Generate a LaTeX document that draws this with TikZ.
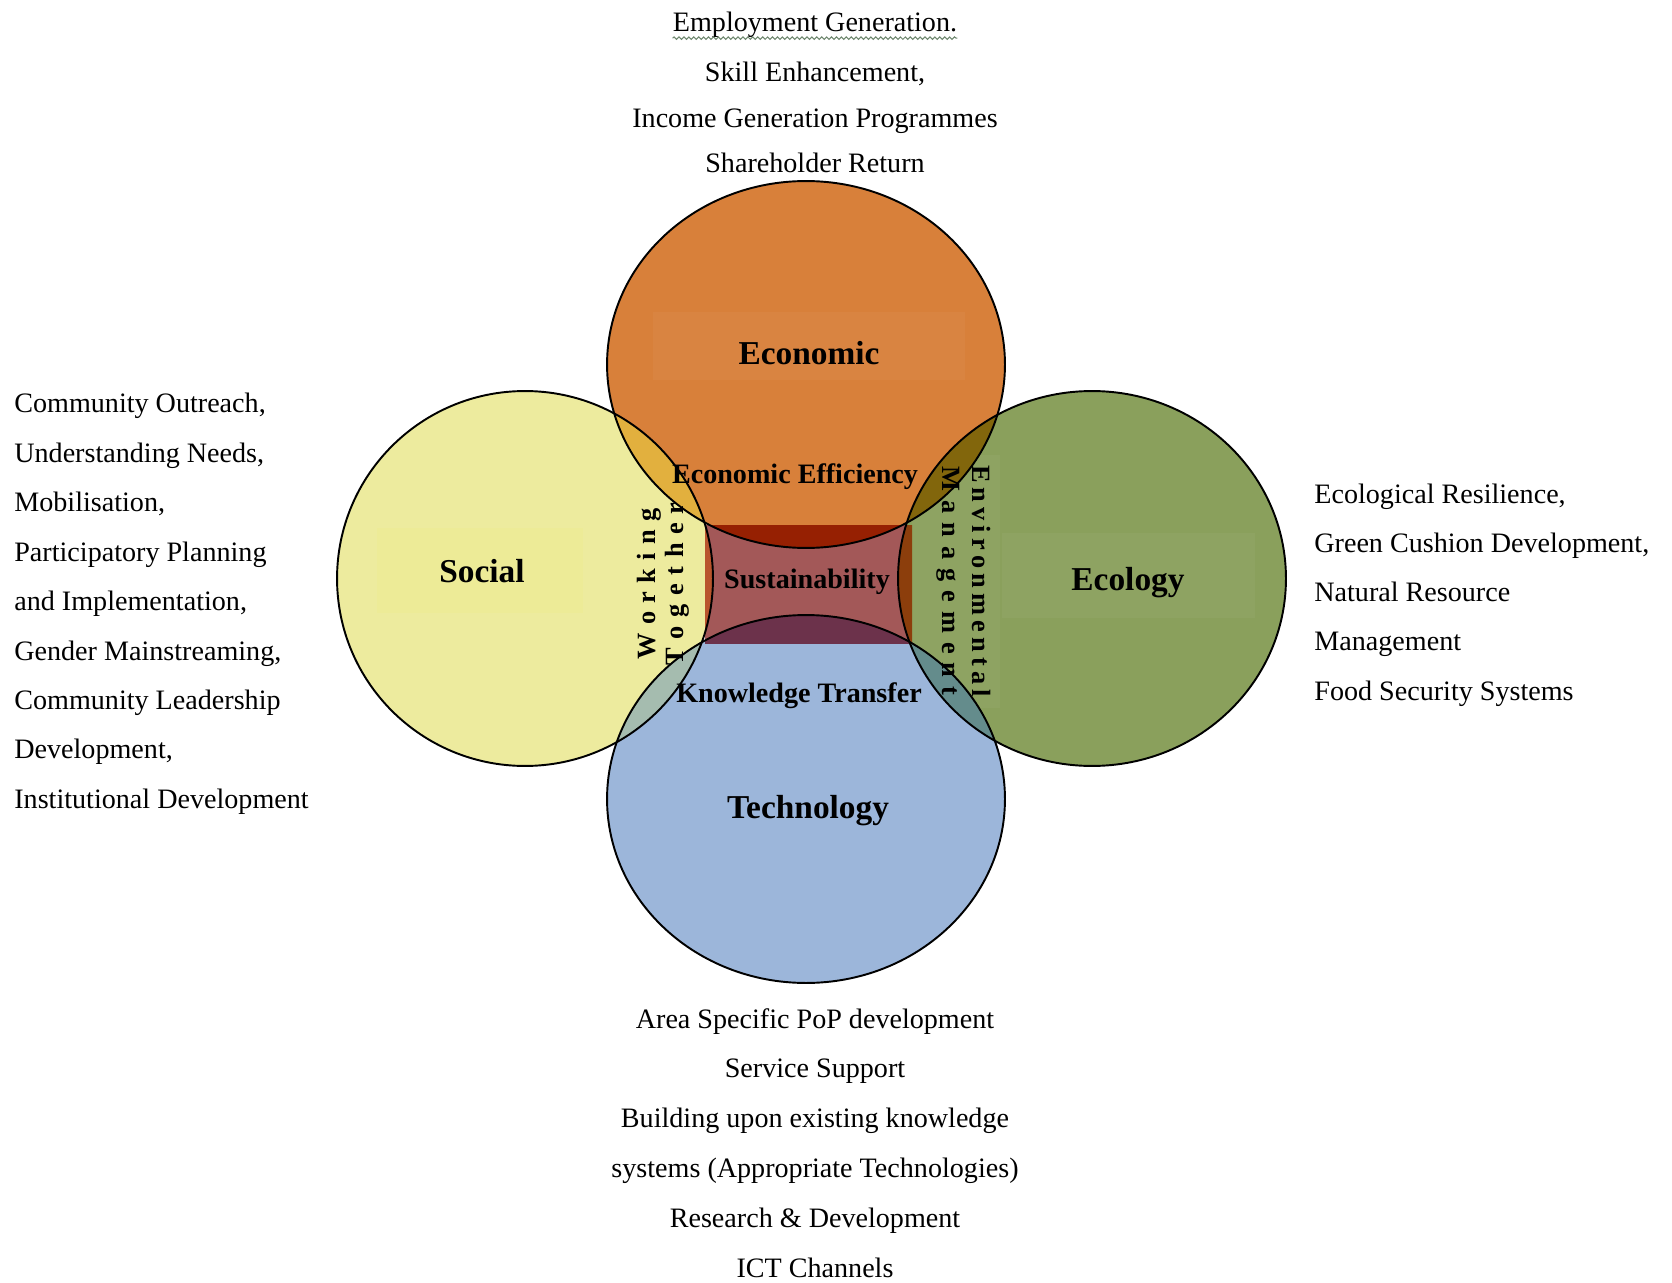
\documentclass[tikz,border=0pt]{standalone}
\usepackage{fontspec}
\setmainfont{Liberation Serif}
\usetikzlibrary{decorations.pathmorphing}

\definecolor{econorange}{RGB}{216,128,58}
\definecolor{socyellow}{RGB}{237,235,158}
\definecolor{ecogreen}{RGB}{138,160,92}
\definecolor{techblue}{RGB}{156,182,218}
\definecolor{lensOS}{RGB}{226,176,62}
\definecolor{lensOE}{RGB}{130,102,12}
\definecolor{lensTS}{RGB}{165,188,175}
\definecolor{lensTE}{RGB}{100,140,140}
\definecolor{sustrose}{RGB}{163,88,88}
\definecolor{sustO}{RGB}{150,32,2}
\definecolor{sustT}{RGB}{108,50,75}
\definecolor{sustS}{RGB}{185,85,45}
\definecolor{sustE}{RGB}{140,62,12}
\definecolor{squigglecol}{RGB}{110,135,110}

\newcommand{\econshape}{(806,364.5) ellipse [x radius=3.98cm, y radius=3.67cm]}
\newcommand{\socshape}{(525,578.5) ellipse [x radius=3.76cm, y radius=3.75cm]}
\newcommand{\ecoshape}{(1092,578.5) ellipse [x radius=3.88cm, y radius=3.75cm]}
\newcommand{\techshape}{(806,799) ellipse [x radius=3.98cm, y radius=3.68cm]}
\newcommand{\sustshape}{(705,525) rectangle (912,643)}

\tikzset{
  ring/.style={draw=black, line width=1.1pt},
  labelbox/.style={fill=white, fill opacity=0.04},
  itemtext/.style={font=\fontsize{16}{19}\selectfont, inner sep=0pt, anchor=base},
  circlelabel/.style={font=\fontsize{19}{22}\selectfont\bfseries, inner sep=0pt, anchor=base},
  midlabel/.style={font=\fontsize{16}{19}\selectfont\bfseries, inner sep=0pt, anchor=base},
  sidelabel/.style={font=\fontsize{15}{18}\selectfont\bfseries, inner sep=0pt, anchor=base},
}

\begin{document}
\begin{tikzpicture}[x=0.02cm, y=-0.02cm]
    \useasboundingbox (0,0) rectangle (1672,1283);

    % the four circles
    \fill[econorange] \econshape;
    \fill[socyellow] \socshape;
    \fill[ecogreen] \ecoshape;
    \fill[techblue] \techshape;

    % faint boxes behind the circle titles
    \begin{scope}
        \clip \econshape;
        \fill[labelbox] (653,312) rectangle (965,380);
    \end{scope}
    \begin{scope}
        \clip \socshape;
        \fill[yellow, fill opacity=0.04] (377,528) rectangle (583,613);
    \end{scope}
    \begin{scope}
        \clip \ecoshape;
        \fill[labelbox] (1002,533) rectangle (1255,618);
        \fill[labelbox] (912,455) rectangle (1000,708);
    \end{scope}

    % overlaps
    \begin{scope}
        \clip \econshape;
        \fill[lensOS] \socshape;
        \fill[lensOE] \ecoshape;
    \end{scope}
    \begin{scope}
        \clip \techshape;
        \fill[lensTS] \socshape;
        \fill[lensTE] \ecoshape;
    \end{scope}

    % Sustainability core
    \fill[sustrose] \sustshape;
    \begin{scope}
        \clip \sustshape;
        \fill[sustO] \econshape;
        \fill[sustT] \techshape;
        \fill[sustS] \socshape;
        \fill[sustE] \ecoshape;
    \end{scope}

    \draw[ring] \econshape;
    \draw[ring] \socshape;
    \draw[ring] \ecoshape;
    \draw[ring] \techshape;

    % circle titles
    \node[circlelabel] (econlabel) at (809,365) {Economic};
    \node[circlelabel] (soclabel) at (482,582) {Social};
    \node[circlelabel] (ecolabel) at (1128,590) {Ecology};
    \node[circlelabel] (techlabel) at (808,818) {Technology};

    % middle
    \node[midlabel] (efficiency) at (795,483) {Economic Efficiency};
    \node[midlabel] (sust) at (807,588) {Sustainability};
    \node[midlabel] (knowledge) at (799,702) {Knowledge Transfer};
    \node[sidelabel, rotate=90] (working) at (655,584)
        {\hbox to 86pt{W\hfill o\hfill r\hfill k\hfill i\hfill n\hfill g}};
    \node[sidelabel, rotate=90] (together) at (683,584)
        {\hbox to 93pt{T\hfill o\hfill g\hfill e\hfill t\hfill h\hfill e\hfill r}};
    \node[sidelabel, rotate=-90] (environ) at (972,581)
        {\hbox to 132pt{E\hfill n\hfill v\hfill i\hfill r\hfill o\hfill n\hfill m\hfill e\hfill n\hfill t\hfill a\hfill l}};
    \node[sidelabel, rotate=-90] (manage) at (942,581)
        {\hbox to 130pt{M\hfill a\hfill n\hfill a\hfill g\hfill e\hfill m\hfill e\hfill n\hfill t}};

    % Economic items
    \foreach \yy/\txt [count=\i] in {32/{Employment Generation.}, 82/{Skill Enhancement,},
        128/{Income Generation Programmes}, 173/{Shareholder Return}}
        \node[itemtext] (gain\i) at (815,\yy) {\txt};
    \draw[squigglecol, line width=0.6pt, decorate, decoration={snake, amplitude=0.7pt, segment length=2.8pt}]
        ([yshift=-3.5pt]gain1.base west) -- ([yshift=-3.5pt]gain1.base east);

    % Social items
    \foreach \txt [count=\i from 0] in {{Community Outreach,}, {Understanding Needs,}, {Mobilisation,},
        {Participatory Planning}, {and Implementation,}, {Gender Mainstreaming,},
        {Community Leadership}, {Development,}, {Institutional Development}}
        \node[itemtext, anchor=base west] (reach\i) at (14,{413+49.4*\i}) {\txt};

    % Ecology items
    \foreach \txt [count=\i from 0] in {{Ecological Resilience,}, {Green Cushion Development,},
        {Natural Resource}, {Management}, {Food Security Systems}}
        \node[itemtext, anchor=base west] (green\i) at (1314,{503+49.3*\i}) {\txt};

    % Technology items
    \foreach \txt [count=\i from 0] in {{Area Specific PoP development}, {Service Support},
        {Building upon existing knowledge}, {systems (Appropriate Technologies)},
        {Research \& Development}, {ICT Channels}}
        \node[itemtext] (tool\i) at (815,{1028+49.8*\i}) {\txt};
\end{tikzpicture}
\end{document}
